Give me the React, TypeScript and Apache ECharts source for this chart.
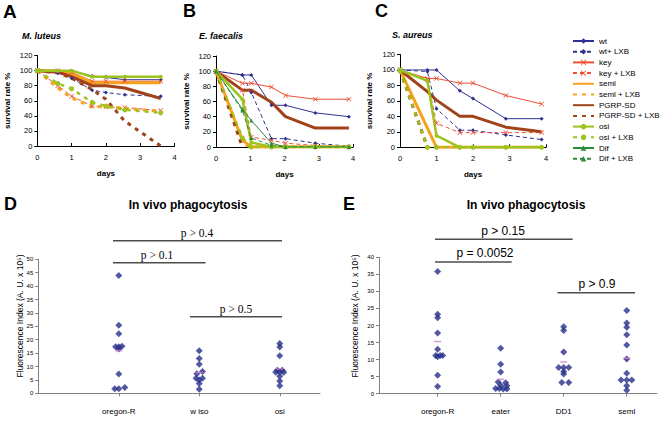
import React, { useEffect, useRef } from "react";
import * as echarts from "echarts";

// ---------- Survival data (A–C) ----------
const daysA = [0, 0.6, 1, 1.6, 2, 2.55, 3.6];
const daysB = [0, 0.77, 1.03, 1.62, 2.03, 2.9, 3.88];
const daysC = [0, 0.75, 1, 1.64, 2, 2.9, 3.88];

const seriesNames = [
  "wt", "wt+ LXB", "key", "key + LXB", "seml", "seml + LXB",
  "PGRP-SD", "PGRP-SD + LXB", "osi", "osi + LXB", "Dif", "Dif + LXB",
];

// M. luteus
const aWt = [100, 100, 100, 93, 91, 88, 88];
const aWtL = [100, 97, 90, 74, 71, 68, 66];
const aKey = [100, 100, 98, 86, 86, 86, 86];
const aKeyL = [100, 80, 66, 53, 52, 51, 47];
const aSeml = [100, 100, 96, 84, 84, 84, 84];
const aSemlL = [100, 77, 64, 52, 52, 50, 46];
const aPgrp = [100, 98, 92, 80, 80, 77, 63];
const aPgrpL = [100, 97, 90, 75, 62, 33, 0];
const aOsi = [100, 100, 100, 92, 92, 92, 92];
const aOsiL = [100, 83, 76, 58, 53, 48, 44];

// E. faecalis
const bWt = [100, 95, 95, 55, 55, 45, 40];
const bWtL = [100, 95, 72, 11, 11, 5, 1];
const bKey = [100, 84, 84, 79, 68, 63, 63];
const bKeyL = [100, 75, 13, 9, 5, 2, 0];
const bSeml = [100, 9, 0, 0, 0, 0, 0];
const bSemlL = [100, 4, 0, 0, 0, 0, 0];
const bPgrp = [100, 75, 75, 59, 40, 25, 25];
const bPgrpL = [100, 0, null, null, null, null, null];
const bOsi = [100, 63, 6, 0, 0, 0, 0];
const bOsiL = [100, 12, 0, 0, 0, 0, 0];
const bDif = [100, 50, 35, 5, 0, 0, 0];
const bDifL = [100, 48, 12, 2, 0, 0, 0];

// S. aureus
const cWt = [100, 100, 100, 73, 63, 37, 37];
const cWtL = [100, 98, 50, 22, 22, 16, 10];
const cKey = [100, 89, 89, 83, 83, 67, 56];
const cKeyL = [100, 88, 31, 19, 19, 19, 19];
const cSeml = [100, null, 0, 0, 0, 0, 0];
const cSemlL = [100, 0, null, null, null, null, null];
const cPgrp = [100, 72, 61, 40, 40, 26, 20];
const cPgrpL = [100, 0, null, null, null, null, null];
const cOsi = [100, 86, 15, 0, 0, 0, 0];
const cOsiL = [100, 0, 0, 0, 0, 0, 0];

const yTicksSurvival = [0, 20, 40, 60, 80, 100, 120];

// ---------- Phagocytosis data (D, E) ----------
const catsD = ["oregon-R", "w iso", "osi"];
const dOregon = [44.0, 25.4, 22.2, 17.4, 17.4, 17.6, 16.5, 7.2, 1.7, 1.7, 2.2];
const dOregonJit = [0, 0, 0, -0.04, 0, 0.04, 0, 0, -0.05, 0, 0.075];
const dWiso = [15.9, 13.0, 10.8, 8.1, 7.3, 5.6, 5.6, 5.0, 3.7, 1.5];
const dWisoJit = [0, 0, 0, 0.04, -0.03, -0.04, 0.04, 0, 0, 0];
const dOsi = [18.6, 17.3, 14.0, 8.6, 8.6, 7.9, 7.9, 7.9, 6.4, 4.6, 2.8];
const dOsiJit = [0, 0, 0, -0.03, 0.03, -0.05, 0, 0.05, 0, 0, 0];
const dMeans = [15.9, 7.7, 9.1];

const catsE = ["oregon-R", "eater", "DD1", "seml"];
const eOregon = [35.8, 23.3, 22.3, 17.8, 13.0, 11.2, 11.2, 11.2, 10.8, 5.4, 2.1];
const eOregonJit = [0, 0, 0, 0, 0, -0.03, 0.04, 0.08, 0, 0, 0];
const eEater = [13.3, 8.6, 6.4, 3.4, 3.2, 2.5, 2.3, 1.5, 1.5, 1.4, 1.4];
const eEaterJit = [0, 0, 0, -0.04, 0.08, 0, 0.1, -0.08, -0.02, 0.04, 0.1];
const eDD1 = [19.6, 18.5, 12.2, 7.7, 7.7, 7.7, 6.5, 5.8, 3.3, 3.3];
const eDD1Jit = [0, 0, 0, -0.08, 0, 0.08, 0, 0, -0.03, 0.08];
const eSeml = [24.4, 20.7, 19.5, 17.3, 14.3, 10.2, 6.0, 4.0, 4.0, 4.0, 2.3, 1.0];
const eSemlJit = [0, 0, 0, 0, 0, 0, 0, -0.09, 0, 0.08, 0, 0];
const eMeans = [15.3, 4.2, 9.3, 10.4];

// ---------- styles ----------
const NAVY = "#2E3192";
const RED = "#EE4E36";
const ORANGE = "#F7A21B";
const BROWN = "#A0421A";
const LIME = "#9DC41E";
const GREEN = "#2E8B3E";
const XSYM = "path://M0,1L1,0L5,4L9,0L10,1L6,5L10,9L9,10L5,6L1,10L0,9L4,5Z";

const styleOf: Record<string, any> = {
  "wt": { color: NAVY, width: 1, type: "solid", symbol: "diamond", size: 4 },
  "wt+ LXB": { color: NAVY, width: 1, type: [4, 3], symbol: "diamond", size: 4 },
  "key": { color: RED, width: 1, type: "solid", symbol: XSYM, size: 5 },
  "key + LXB": { color: RED, width: 1, type: [4, 3], symbol: XSYM, size: 5 },
  "seml": { color: ORANGE, width: 3, type: "solid", symbol: "none", size: 0 },
  "seml + LXB": { color: ORANGE, width: 3, type: [4, 5], symbol: "none", size: 0 },
  "PGRP-SD": { color: BROWN, width: 3, type: "solid", symbol: "none", size: 0 },
  "PGRP-SD + LXB": { color: BROWN, width: 3, type: [4, 5], symbol: "none", size: 0 },
  "osi": { color: LIME, width: 2.5, type: "solid", symbol: "circle", size: 4 },
  "osi + LXB": { color: LIME, width: 2.5, type: [4, 5], symbol: "circle", size: 5 },
  "Dif": { color: GREEN, width: 1, type: "solid", symbol: "triangle", size: 4 },
  "Dif + LXB": { color: GREEN, width: 1, type: [4, 3], symbol: "triangle", size: 4 },
};

function lineSeries(name: string, panel: number, days: number[], vals: (number | null)[]) {
  const s = styleOf[name];
  return {
    type: "line",
    name,
    xAxisIndex: panel,
    yAxisIndex: panel,
    data: days.map((d, i) => [d, vals[i]]),
    connectNulls: true,
    symbol: s.symbol,
    symbolSize: s.size,
    showSymbol: s.symbol !== "none",
    itemStyle: { color: s.color },
    lineStyle: { color: s.color, width: s.width, type: s.type },
    z: 2,
  };
}

function scatterSeries(panel: number, groups: number[][], jits: number[][]) {
  const data: number[][] = [];
  groups.forEach((g, gi) => g.forEach((v, i) => data.push([gi + 1 + jits[gi][i], v])));
  return {
    type: "scatter",
    name: "pts" + panel,
    xAxisIndex: panel,
    yAxisIndex: panel,
    symbol: "diamond",
    symbolSize: 7,
    itemStyle: { color: "#27308A" },
    data,
    z: 3,
  };
}

function meanSeries(panel: number, means: number[]) {
  return {
    type: "scatter",
    name: "mean" + panel,
    xAxisIndex: panel,
    yAxisIndex: panel,
    symbol: "rect",
    symbolSize: [7, 1.5],
    itemStyle: { color: "#D07CC8" },
    data: means.map((m, i) => [i + 1, m]),
    z: 4,
  };
}

const FONT = "Liberation Sans, Arial, sans-serif";

function survivalX(grid: number) {
  return {
    type: "value", gridIndex: grid, min: 0, max: 4, interval: 1,
    axisLine: { show: true, onZero: false, lineStyle: { color: "#000", width: 1 } },
    axisTick: { show: true, inside: true, length: 3, lineStyle: { color: "#000" } },
    axisLabel: { fontSize: 7.5, color: "#000", margin: 7, fontFamily: FONT },
    splitLine: { show: false },
    name: "days", nameLocation: "middle", nameGap: 23,
    nameTextStyle: { fontSize: 8, fontWeight: "bold", color: "#000", fontFamily: FONT },
  };
}
function survivalY(grid: number, gap: number) {
  return {
    type: "value", gridIndex: grid, min: yTicksSurvival[0],
    max: yTicksSurvival[yTicksSurvival.length - 1], interval: 20,
    axisLine: { show: true, lineStyle: { color: "#000", width: 1 } },
    axisTick: { show: true, length: 3, lineStyle: { color: "#000" } },
    axisLabel: { fontSize: 7.5, color: "#000", margin: 5, fontFamily: FONT },
    splitLine: { show: false },
    name: "survival rate %", nameLocation: "middle", nameGap: gap,
    nameTextStyle: { fontSize: 8, fontWeight: "bold", color: "#000", fontFamily: FONT },
  };
}
function phagoX(grid: number, cats: string[], min: number, max: number) {
  const cv = cats.map((_, i) => i + 1);
  return {
    type: "value", gridIndex: grid, min, max,
    axisLine: { show: true, onZero: false, lineStyle: { color: "#808080", width: 1 } },
    axisTick: { show: true, customValues: cv, length: 3, lineStyle: { color: "#808080" } },
    axisLabel: {
      customValues: cv, fontSize: 8, color: "#000", margin: 14, fontFamily: FONT,
      formatter: (v: number) => {
        const k = Math.round(v);
        return Math.abs(v - k) < 0.01 && cats[k - 1] ? cats[k - 1] : "";
      },
    },
    splitLine: { show: false },
  };
}
function phagoY(grid: number, max: number) {
  return {
    type: "value", gridIndex: grid, min: 0, max, interval: 5,
    axisLine: { show: true, lineStyle: { color: "#808080", width: 1 } },
    axisTick: { show: true, length: 3, lineStyle: { color: "#808080" } },
    axisLabel: { fontSize: 6, color: "#000", margin: 5, fontFamily: FONT },
    splitLine: { show: false },
  };
}

function txt(text: string, x: number, y: number, size: number, opts: any = {}) {
  return {
    type: "text", x, y, rotation: opts.rotation || 0,
    style: {
      text, fontSize: size, fontWeight: opts.weight || "normal",
      fontStyle: opts.italic ? "italic" : "normal",
      fontFamily: opts.family || FONT, fill: "#000",
      align: opts.align || "left", verticalAlign: "middle",
    },
  };
}
function bar(x1: number, x2: number, y: number) {
  return { type: "line", shape: { x1, y1: y, x2, y2: y }, style: { stroke: "#4D4D4D", lineWidth: 1.5 } };
}

export default function App() {
  const ref = useRef<HTMLDivElement>(null);
  useEffect(() => {
    if (!ref.current) return;
    const chart = echarts.init(ref.current, undefined, { renderer: "svg" });
    const series: any[] = [
      lineSeries("wt", 0, daysA, aWt),
      lineSeries("wt+ LXB", 0, daysA, aWtL),
      lineSeries("key", 0, daysA, aKey),
      lineSeries("key + LXB", 0, daysA, aKeyL),
      lineSeries("seml", 0, daysA, aSeml),
      lineSeries("seml + LXB", 0, daysA, aSemlL),
      lineSeries("PGRP-SD", 0, daysA, aPgrp),
      lineSeries("PGRP-SD + LXB", 0, daysA, aPgrpL),
      lineSeries("osi", 0, daysA, aOsi),
      lineSeries("osi + LXB", 0, daysA, aOsiL),

      lineSeries("wt", 1, daysB, bWt),
      lineSeries("wt+ LXB", 1, daysB, bWtL),
      lineSeries("key", 1, daysB, bKey),
      lineSeries("key + LXB", 1, daysB, bKeyL),
      lineSeries("seml", 1, daysB, bSeml),
      lineSeries("seml + LXB", 1, daysB, bSemlL),
      lineSeries("PGRP-SD", 1, daysB, bPgrp),
      lineSeries("PGRP-SD + LXB", 1, daysB, bPgrpL),
      lineSeries("osi", 1, daysB, bOsi),
      lineSeries("osi + LXB", 1, daysB, bOsiL),
      lineSeries("Dif", 1, daysB, bDif),
      lineSeries("Dif + LXB", 1, daysB, bDifL),

      lineSeries("wt", 2, daysC, cWt),
      lineSeries("wt+ LXB", 2, daysC, cWtL),
      lineSeries("key", 2, daysC, cKey),
      lineSeries("key + LXB", 2, daysC, cKeyL),
      lineSeries("seml", 2, daysC, cSeml),
      lineSeries("seml + LXB", 2, daysC, cSemlL),
      lineSeries("PGRP-SD", 2, daysC, cPgrp),
      lineSeries("PGRP-SD + LXB", 2, daysC, cPgrpL),
      lineSeries("osi", 2, daysC, cOsi),
      lineSeries("osi + LXB", 2, daysC, cOsiL),

      scatterSeries(3, [dOregon, dWiso, dOsi], [dOregonJit, dWisoJit, dOsiJit]),
      meanSeries(3, dMeans),
      scatterSeries(4, [eOregon, eEater, eDD1, eSeml], [eOregonJit, eEaterJit, eDD1Jit, eSemlJit]),
      meanSeries(4, eMeans),
    ];
    const legendData = seriesNames.map((n) =>
      styleOf[n].symbol === "none"
        ? { name: n, itemStyle: { opacity: 0, color: "rgba(0,0,0,0)", borderWidth: 0 } }
        : { name: n }
    );
    chart.setOption({
      animation: false,
      backgroundColor: "#fff",
      textStyle: { fontFamily: FONT },
      grid: [
        { left: 37.3, top: 55.6, width: 137.2, height: 90.4 },
        { left: 216, top: 56, width: 137, height: 91 },
        { left: 400, top: 54.5, width: 146, height: 92.8 },
        { left: 38.3, top: 259.3, width: 281.7, height: 134 },
        { left: 379, top: 257.3, width: 278, height: 136.4 },
      ],
      xAxis: [
        survivalX(0), survivalX(1), survivalX(2),
        phagoX(3, catsD, 0, 3.5),
        phagoX(4, catsE, 0.07, 4.48),
      ],
      yAxis: [
        survivalY(0, 26), survivalY(1, 26), survivalY(2, 27),
        phagoY(3, 50), phagoY(4, 40),
      ],
      legend: {
        data: legendData,
        orient: "vertical",
        left: 572,
        top: 37,
        padding: 0,
        itemWidth: 21,
        itemHeight: 7,
        itemGap: 2.7,
        textStyle: { fontSize: 8, color: "#000", fontFamily: FONT },
        selectedMode: false,
      },
      graphic: [
        txt("A", 3, 11, 19, { weight: "bold" }),
        txt("B", 183, 11, 18, { weight: "bold" }),
        txt("C", 375, 11, 18, { weight: "bold" }),
        txt("M. luteus", 22, 36, 9, { weight: "bold", italic: true }),
        txt("E. faecalis", 199, 36, 9, { weight: "bold", italic: true }),
        txt("S. aureus", 392, 35, 9, { weight: "bold", italic: true }),
        txt("D", 4, 204, 18, { weight: "bold" }),
        txt("E", 343, 204, 18, { weight: "bold" }),
        txt("In vivo phagocytosis", 188, 205, 12, { weight: "bold", align: "center" }),
        txt("In vivo phagocytosis", 526, 205, 12, { weight: "bold", align: "center" }),
        txt("Fluorescence Index (A. U. x 10\u2075)", 20, 316, 8.5, { align: "center", rotation: Math.PI / 2 }),
        txt("Fluorescence Index (A. U. x 10\u2075)", 355, 316, 8.5, { align: "center", rotation: Math.PI / 2 }),
        bar(113, 282, 240.7),
        bar(113, 205.5, 262.7),
        bar(190, 282, 316.7),
        txt("p > 0.4", 197, 233, 11.5, { align: "center", family: "Liberation Serif, Times New Roman, serif" }),
        txt("p > 0.1", 157, 255, 11.5, { align: "center", family: "Liberation Serif, Times New Roman, serif" }),
        txt("p > 0.5", 236, 309, 11.5, { align: "center", family: "Liberation Serif, Times New Roman, serif" }),
        bar(435, 572.7, 239.3),
        bar(435, 511.7, 262),
        bar(557.5, 635, 292.7),
        txt("p > 0.15", 503, 230.5, 12, { align: "center" }),
        txt("p = 0.0052", 485, 253.3, 12, { align: "center" }),
        txt("p > 0.9", 597, 284, 12, { align: "center" }),
      ],
      series,
    });
    return () => chart.dispose();
  }, []);
  return (
    <div
      ref={ref}
      style={{ position: "fixed", left: 0, top: 0, width: 661, height: 421, background: "#fff" }}
    />
  );
}
